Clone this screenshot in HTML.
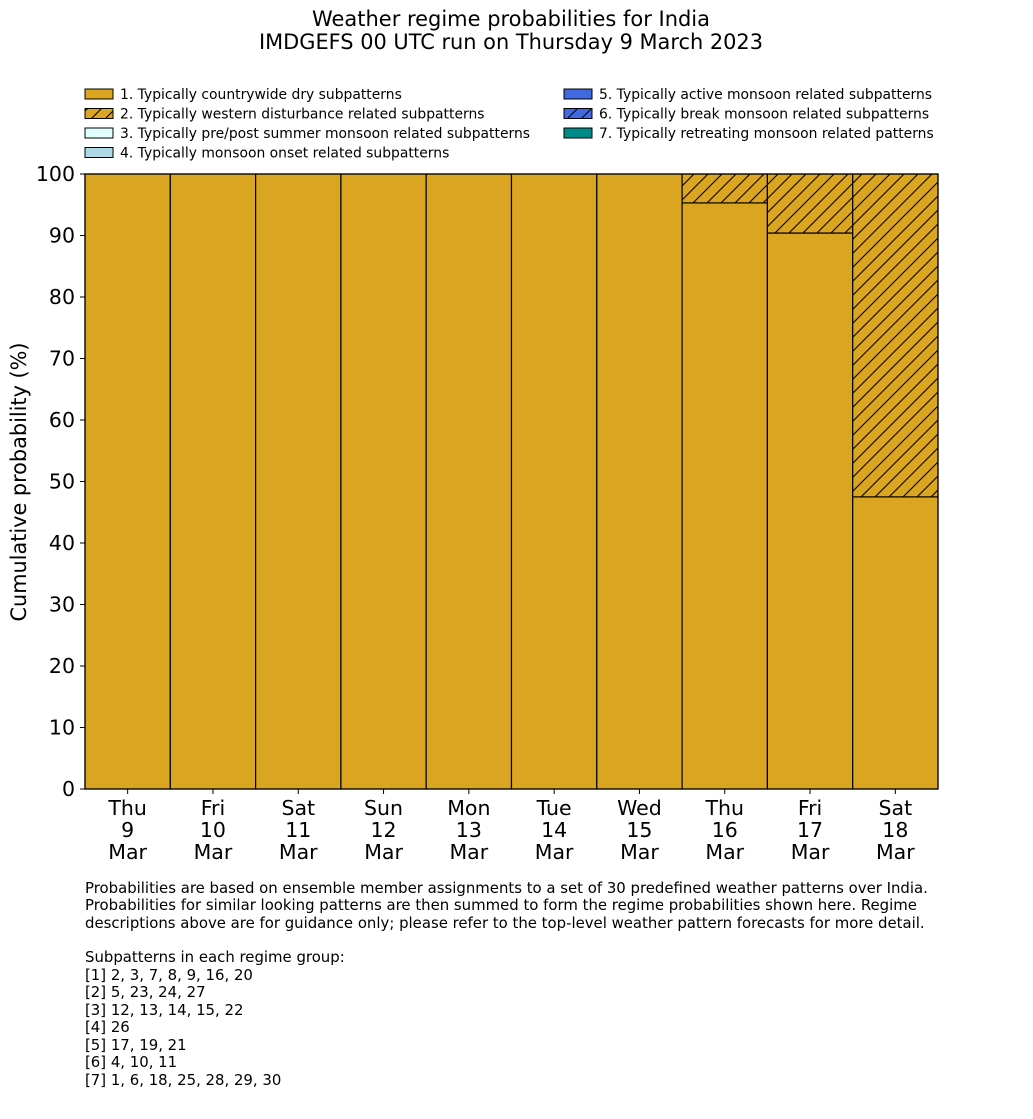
<!DOCTYPE html>
<html><head><meta charset="utf-8"><style>
body{margin:0;background:#fff;}
svg text{font-family:"DejaVu Sans","Liberation Sans",sans-serif;fill:#000;}
</style></head><body>
<svg id="chart" width="1033" height="1114" xmlns="http://www.w3.org/2000/svg">
<defs>
<pattern id="hatch" patternUnits="userSpaceOnUse" width="14" height="14">
<rect width="14" height="14" fill="#DAA520"/>
<path d="M-1,15 L15,-1 M-8,8 L8,-8 M6,22 L22,6" stroke="#000" stroke-width="1.1"/>
</pattern>
</defs>
<text x="511" y="26" text-anchor="middle" font-size="21" textLength="398" lengthAdjust="spacingAndGlyphs">Weather regime probabilities for India</text>
<text x="511" y="49" text-anchor="middle" font-size="21" textLength="504" lengthAdjust="spacingAndGlyphs">IMDGEFS 00 UTC run on Thursday 9 March 2023</text>
<g id="legend"></g>
<g id="bars"></g>
<g id="axes"></g>
<text transform="translate(26,482) rotate(-90)" text-anchor="middle" font-size="21" textLength="279" lengthAdjust="spacingAndGlyphs">Cumulative probability (%)</text>
<g font-size="14.9">
<text x="85" y="893">Probabilities are based on ensemble member assignments to a set of 30 predefined weather patterns over India.</text>
<text x="85" y="910">Probabilities for similar looking patterns are then summed to form the regime probabilities shown here. Regime</text>
<text x="85" y="928">descriptions above are for guidance only; please refer to the top-level weather pattern forecasts for more detail.</text>
<text x="85" y="962">Subpatterns in each regime group:</text>
<text x="85" y="980">[1] 2, 3, 7, 8, 9, 16, 20</text>
<text x="85" y="997">[2] 5, 23, 24, 27</text>
<text x="85" y="1015">[3] 12, 13, 14, 15, 22</text>
<text x="85" y="1032">[4] 26</text>
<text x="85" y="1050">[5] 17, 19, 21</text>
<text x="85" y="1067">[6] 4, 10, 11</text>
<text x="85" y="1085">[7] 1, 6, 18, 25, 28, 29, 30</text>
</g>
</svg>
<script>
const days = ["Thu","Fri","Sat","Sun","Mon","Tue","Wed","Thu","Fri","Sat"];
const dates = ["9","10","11","12","13","14","15","16","17","18"];
const months = ["Mar","Mar","Mar","Mar","Mar","Mar","Mar","Mar","Mar","Mar"];
const regime1 = [100,100,100,100,100,100,100,95.3,90.4,47.5];
const regime2 = [0,0,0,0,0,0,0,4.7,9.6,52.5];
const yTicks = [0,10,20,30,40,50,60,70,80,90,100];
const legendLabels = ["1. Typically countrywide dry subpatterns","2. Typically western disturbance related subpatterns","3. Typically pre/post summer monsoon related subpatterns","4. Typically monsoon onset related subpatterns","5. Typically active monsoon related subpatterns","6. Typically break monsoon related subpatterns","7. Typically retreating monsoon related patterns"];
const legendFills = ["#DAA520","url(#hatch)","#E0FFFF","#ADD8E6","#4169E1","url(#hatch6)","#008B8B"];

const NS="http://www.w3.org/2000/svg";
const svg=document.getElementById('chart');
const X0=85,X1=938,Y0=789,Y1=174;
const bw=(X1-X0)/days.length;
const xs=i=>X0+i*bw;
const ys=v=>Y0-(v/100)*(Y0-Y1);
function mk(tag,attrs,parent){const e=document.createElementNS(NS,tag);for(const k in attrs)e.setAttribute(k,attrs[k]);parent.appendChild(e);return e;}
const defs=svg.querySelector('defs');
const p6=mk('pattern',{id:'hatch6',patternUnits:'userSpaceOnUse',width:14,height:14},defs);
mk('rect',{width:14,height:14,fill:'#4169E1'},p6);
mk('path',{d:'M-1,15 L15,-1 M-8,8 L8,-8 M6,22 L22,6',stroke:'#000','stroke-width':1.1},p6);

const bars=document.getElementById('bars');
for(let i=0;i<days.length;i++){
  let base=0;
  const r1=mk('rect',{x:xs(i),y:ys(base+regime1[i]),width:bw,height:ys(base)-ys(base+regime1[i]),fill:'#DAA520',stroke:'#000','stroke-width':1.2},bars);
  
  
  base+=regime1[i];
  if(regime2[i]>0){
    const r2=mk('rect',{x:xs(i),y:ys(base+regime2[i]),width:bw,height:ys(base)-ys(base+regime2[i]),fill:'url(#hatch)',stroke:'#000','stroke-width':1.2},bars);
    
    
  }
}
const axes=document.getElementById('axes');
mk('rect',{x:X0,y:Y1,width:X1-X0,height:Y0-Y1,fill:'none',stroke:'#000','stroke-width':1.2},axes);
yTicks.forEach(t=>{
  mk('line',{x1:X0-5,x2:X0,y1:ys(t),y2:ys(t),stroke:'#000'},axes);
  const tx=mk('text',{x:X0-10,y:ys(t)+7,'text-anchor':'end','font-size':20.5},axes);
  tx.textContent=t;
  
  
});
for(let i=0;i<days.length;i++){
  const cx=xs(i)+bw/2;
  mk('line',{x1:cx,x2:cx,y1:Y0,y2:Y0+5,stroke:'#000'},axes);
  [days[i],dates[i],months[i]].forEach((s,j)=>{
    const tx=mk('text',{x:cx,y:815+j*22,'text-anchor':'middle','font-size':20.5},axes);
    tx.textContent=s;
    
    
  });
}
const lg=document.getElementById('legend');
legendLabels.forEach((s,k)=>{
  const col=k<4?0:1, row=k<4?k:k-4;
  const x=col?564:85, y=89+row*19.5;
  const r=mk('rect',{x:x,y:y,width:28,height:10,fill:legendFills[k],stroke:'#000','stroke-width':1},lg);
  
  
  const t=mk('text',{x:x+35,y:y+10,'font-size':13.9},lg);
  t.textContent=s;
  
  
});
</script>
</body></html>
